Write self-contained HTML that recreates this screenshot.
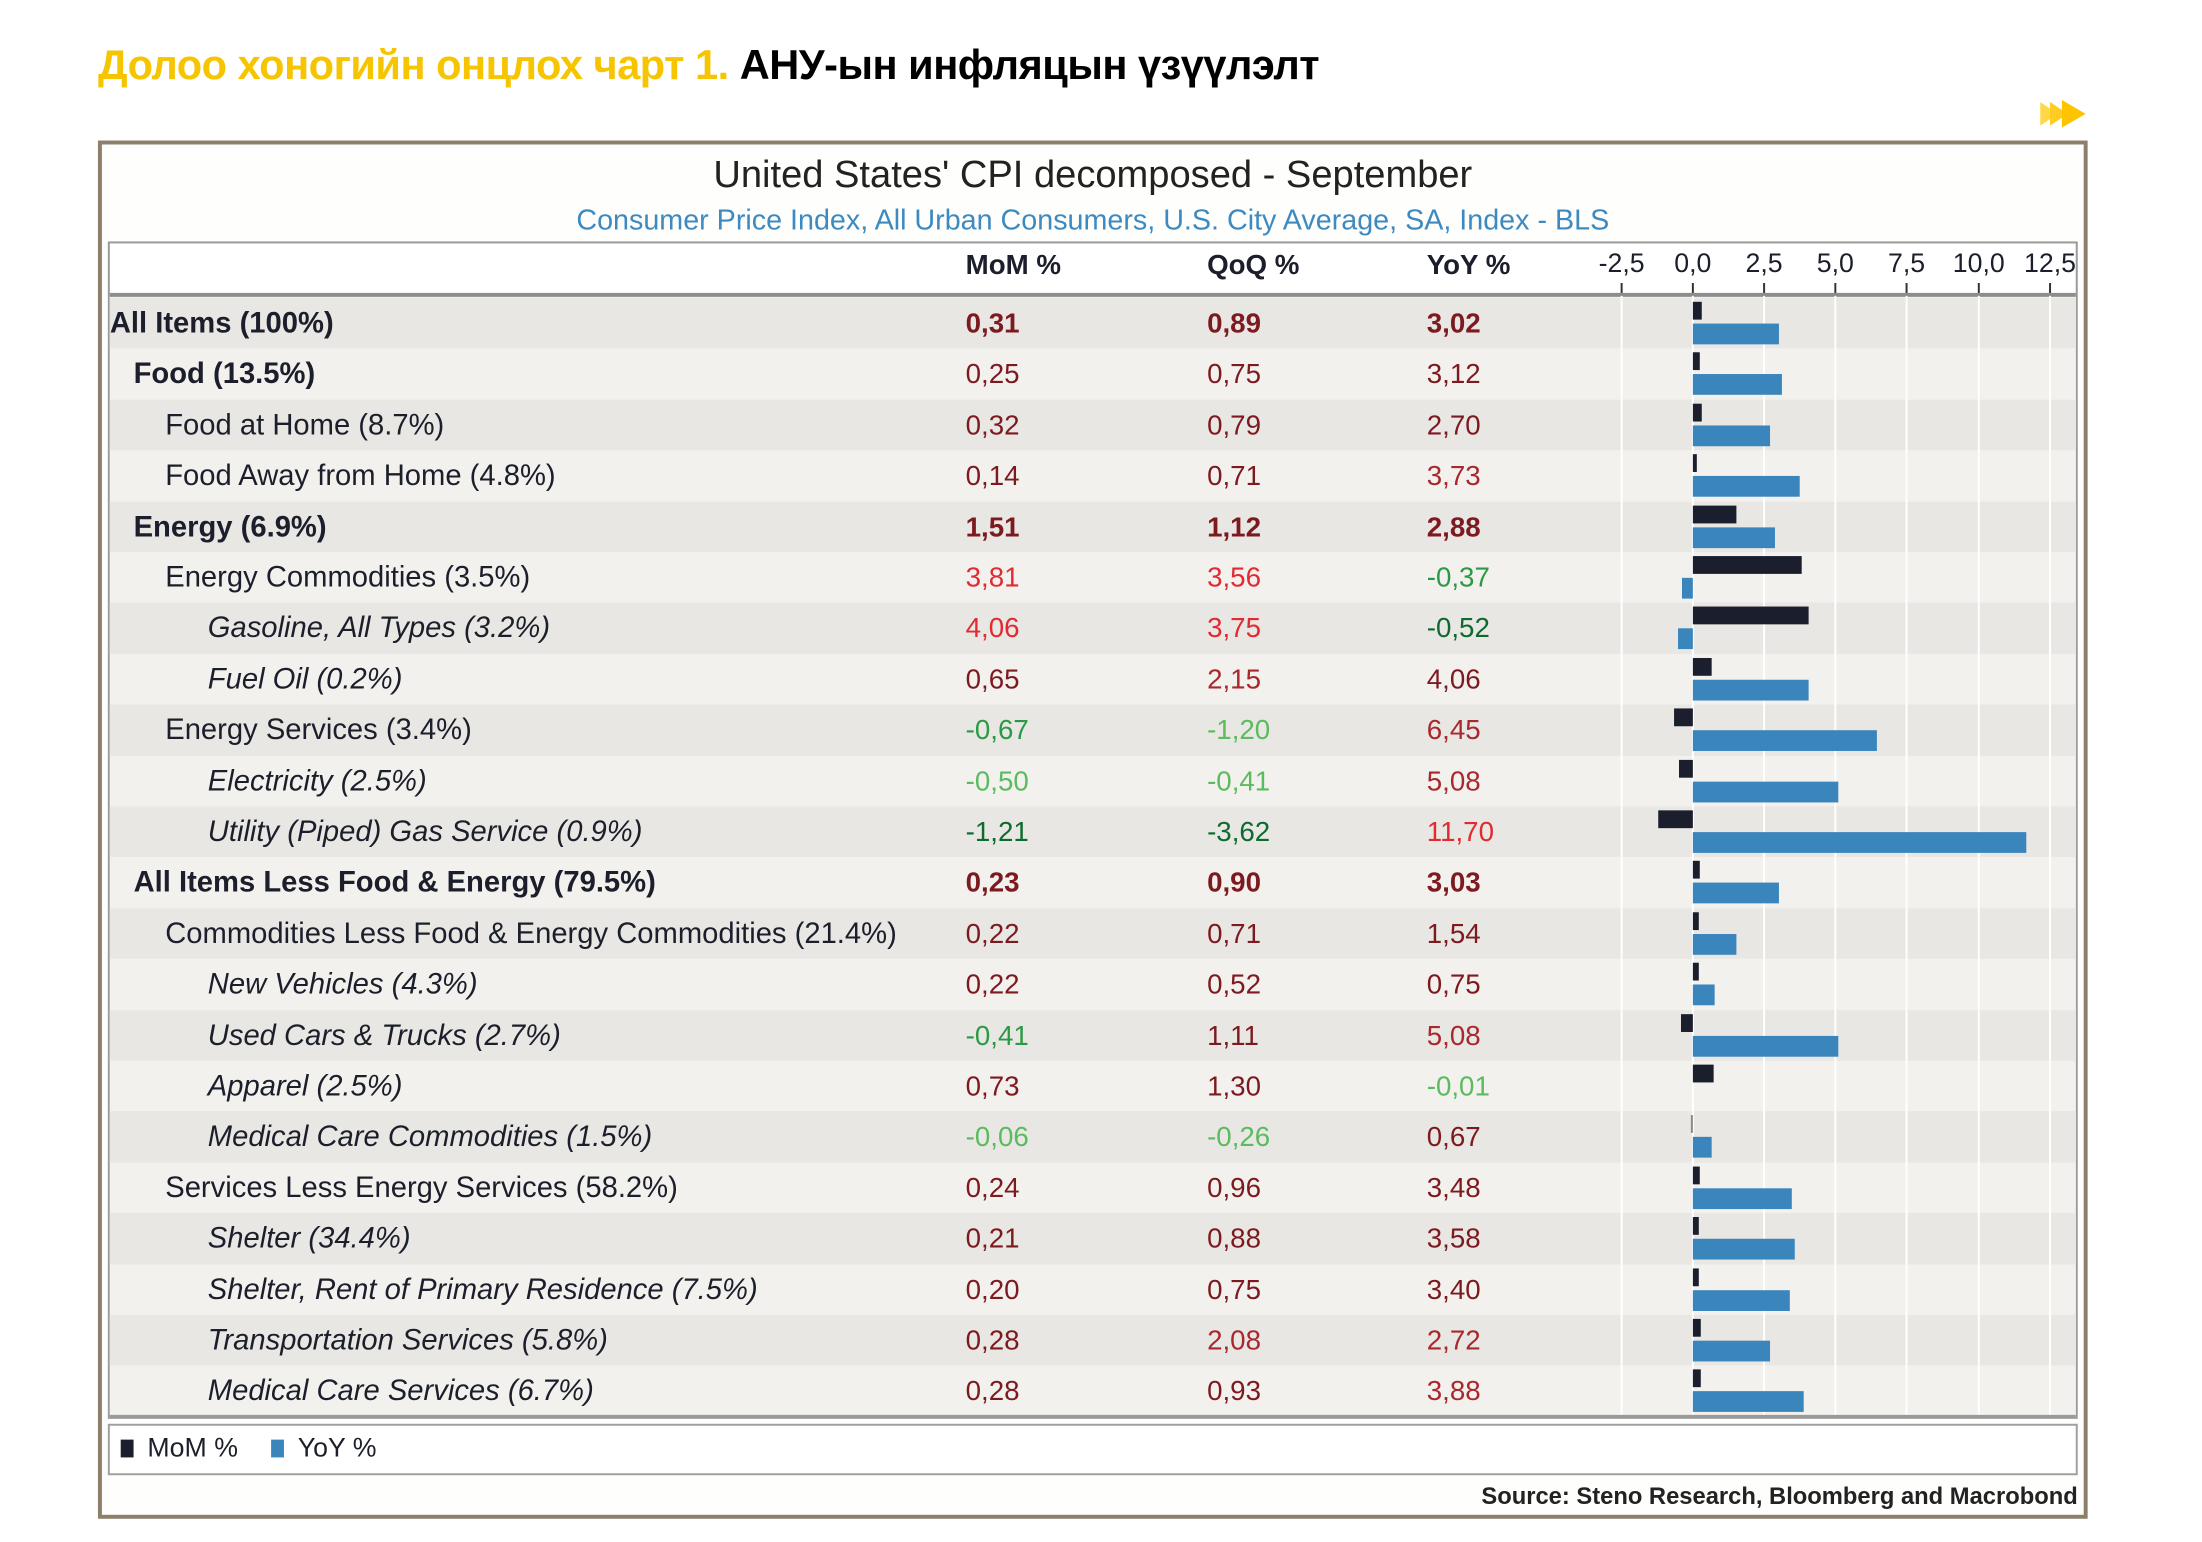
<!DOCTYPE html>
<html><head><meta charset="utf-8"><style>
*{margin:0;padding:0;box-sizing:border-box}
body{width:2202px;height:1538px;background:#fff;position:relative;overflow:hidden;font-family:"Liberation Sans",sans-serif;color:#1c1f2b}
#w{position:absolute;left:0;top:3px;width:2226px;height:1555px;transform:scale(0.9894);transform-origin:0 0}
.a{position:absolute;white-space:nowrap}
.r{position:absolute;left:111px;width:1987px;height:51.4px}
.r .l{position:absolute;top:0;line-height:51.4px;font-size:29.5px}
.r .v{position:absolute;top:0;line-height:51.4px;font-size:28px}
.b .l,.b .v{font-weight:bold}
.i .l{font-style:italic}
.m,.y{position:absolute;height:18px}
.m{top:4px;background:#1b1f2d}
.y{top:26px;height:21px;background:#3b85bd}
.g{position:absolute;top:296px;width:2px;height:1131px;background:#fff}
.dr{color:#7d1a20}.mr{color:#a8282e}.br{color:#e22a30}
.dg{color:#0f6a2f}.mg{color:#2b9a45}.lg{color:#5bbb5e}
.t{position:absolute;top:248px;width:80px;text-align:center;font-size:27px}
.k{position:absolute;top:283px;width:2px;height:11px;background:#333}
</style></head><body><div id="w">
<div class="a" style="left:99px;top:39px;font-size:42px;font-weight:bold;letter-spacing:-0.5px"><span style="color:#f7c400">Долоо хоногийн онцлох чарт 1.</span> <span style="color:#000">АНУ-ын инфляцын үзүүлэлт</span></div>
<svg class="a" style="left:2062px;top:98px" width="50" height="28"><polygon points="0,2 18,14 0,26" fill="#ffd84a"/><polygon points="10,2 28,14 10,26" fill="#ffcc22"/><polygon points="22,0 46,14 22,28" fill="#ffc400"/></svg>
<div class="a" style="left:99px;top:139px;width:2011px;height:1393px;border:4px solid #8c806a;background:#fefefd"></div>
<div class="a" style="left:99px;top:152px;width:2011px;text-align:center;font-size:38.5px;color:#222">United States' CPI decomposed - September</div>
<div class="a" style="left:99px;top:204px;width:2011px;text-align:center;font-size:29px;color:#3d8ac0">Consumer Price Index, All Urban Consumers, U.S. City Average, SA, Index - BLS</div>
<div class="a" style="left:109px;top:241px;width:1991px;height:1190px;border:2px solid #9a9a9a;background:#fff"></div>
<div class="a" style="left:111px;top:296px;width:1987px;height:1133px;background:#f2f1ee"></div>
<div class="a" style="left:976px;top:249px;font-size:28px;font-weight:bold">MoM %</div>
<div class="a" style="left:1220px;top:249px;font-size:28px;font-weight:bold">QoQ %</div>
<div class="a" style="left:1442px;top:249px;font-size:28px;font-weight:bold">YoY %</div>
<div class="t" style="left:1599px">-2,5</div><div class="t" style="left:1671px">0,0</div><div class="t" style="left:1743px">2,5</div><div class="t" style="left:1815px">5,0</div><div class="t" style="left:1887px">7,5</div><div class="t" style="left:1960px">10,0</div><div class="t" style="left:2032px">12,5</div>
<div class="k" style="left:1638px"></div><div class="k" style="left:1710px"></div><div class="k" style="left:1782px"></div><div class="k" style="left:1854px"></div><div class="k" style="left:1926px"></div><div class="k" style="left:1999px"></div><div class="k" style="left:2071px"></div>
<div class="a" style="left:111px;top:293px;width:1987px;height:4px;background:#8d8d8d"></div>

<div class="r" style="top:298px;background:#e8e7e3"></div>
<div class="r" style="top:400.8px;background:#e8e7e3"></div>
<div class="r" style="top:503.6px;background:#e8e7e3"></div>
<div class="r" style="top:606.4px;background:#e8e7e3"></div>
<div class="r" style="top:709.2px;background:#e8e7e3"></div>
<div class="r" style="top:812px;background:#e8e7e3"></div>
<div class="r" style="top:914.8px;background:#e8e7e3"></div>
<div class="r" style="top:1017.6px;background:#e8e7e3"></div>
<div class="r" style="top:1120.4px;background:#e8e7e3"></div>
<div class="r" style="top:1223.2px;background:#e8e7e3"></div>
<div class="r" style="top:1326px;background:#e8e7e3"></div>
<div class="g" style="left:1638px"></div><div class="g" style="left:1710px"></div><div class="g" style="left:1782px"></div><div class="g" style="left:1854px"></div><div class="g" style="left:1926px"></div><div class="g" style="left:1999px"></div><div class="g" style="left:2071px"></div>

<div class="r b" style="top:298px"><span class="l" style="left:0">All Items (100%)</span><span class="v dr" style="left:865px">0,31</span><span class="v dr" style="left:1109px">0,89</span><span class="v dr" style="left:1331px">3,02</span><div class="m" style="left:1600px;width:9px"></div><div class="y" style="left:1600px;width:87px"></div></div>
<div class="r b" style="top:349.4px"><span class="l" style="left:24px">Food (13.5%)</span><span class="v dr" style="left:865px;font-weight:normal">0,25</span><span class="v dr" style="left:1109px;font-weight:normal">0,75</span><span class="v dr" style="left:1331px;font-weight:normal">3,12</span><div class="m" style="left:1600px;width:7px"></div><div class="y" style="left:1600px;width:90px"></div></div>
<div class="r" style="top:400.8px"><span class="l" style="left:56px">Food at Home (8.7%)</span><span class="v dr" style="left:865px">0,32</span><span class="v dr" style="left:1109px">0,79</span><span class="v dr" style="left:1331px">2,70</span><div class="m" style="left:1600px;width:9px"></div><div class="y" style="left:1600px;width:78px"></div></div>
<div class="r" style="top:452.2px"><span class="l" style="left:56px">Food Away from Home (4.8%)</span><span class="v dr" style="left:865px">0,14</span><span class="v dr" style="left:1109px">0,71</span><span class="v mr" style="left:1331px">3,73</span><div class="m" style="left:1600px;width:4px"></div><div class="y" style="left:1600px;width:108px"></div></div>
<div class="r b" style="top:503.6px"><span class="l" style="left:24px">Energy (6.9%)</span><span class="v dr" style="left:865px">1,51</span><span class="v dr" style="left:1109px">1,12</span><span class="v dr" style="left:1331px">2,88</span><div class="m" style="left:1600px;width:44px"></div><div class="y" style="left:1600px;width:83px"></div></div>
<div class="r" style="top:555px"><span class="l" style="left:56px">Energy Commodities (3.5%)</span><span class="v br" style="left:865px">3,81</span><span class="v br" style="left:1109px">3,56</span><span class="v mg" style="left:1331px">-0,37</span><div class="m" style="left:1600px;width:110px"></div><div class="y" style="left:1589px;width:11px"></div></div>
<div class="r i" style="top:606.4px"><span class="l" style="left:99px">Gasoline, All Types (3.2%)</span><span class="v br" style="left:865px">4,06</span><span class="v br" style="left:1109px">3,75</span><span class="v dg" style="left:1331px">-0,52</span><div class="m" style="left:1600px;width:117px"></div><div class="y" style="left:1585px;width:15px"></div></div>
<div class="r i" style="top:657.8px"><span class="l" style="left:99px">Fuel Oil (0.2%)</span><span class="v dr" style="left:865px">0,65</span><span class="v mr" style="left:1109px">2,15</span><span class="v dr" style="left:1331px">4,06</span><div class="m" style="left:1600px;width:19px"></div><div class="y" style="left:1600px;width:117px"></div></div>
<div class="r" style="top:709.2px"><span class="l" style="left:56px">Energy Services (3.4%)</span><span class="v mg" style="left:865px">-0,67</span><span class="v lg" style="left:1109px">-1,20</span><span class="v mr" style="left:1331px">6,45</span><div class="m" style="left:1581px;width:19px"></div><div class="y" style="left:1600px;width:186px"></div></div>
<div class="r i" style="top:760.6px"><span class="l" style="left:99px">Electricity (2.5%)</span><span class="v lg" style="left:865px">-0,50</span><span class="v lg" style="left:1109px">-0,41</span><span class="v mr" style="left:1331px">5,08</span><div class="m" style="left:1586px;width:14px"></div><div class="y" style="left:1600px;width:147px"></div></div>
<div class="r i" style="top:812px"><span class="l" style="left:99px">Utility (Piped) Gas Service (0.9%)</span><span class="v dg" style="left:865px">-1,21</span><span class="v dg" style="left:1109px">-3,62</span><span class="v br" style="left:1331px">11,70</span><div class="m" style="left:1565px;width:35px"></div><div class="y" style="left:1600px;width:337px"></div></div>
<div class="r b" style="top:863.4px"><span class="l" style="left:24px">All Items Less Food &amp; Energy (79.5%)</span><span class="v dr" style="left:865px">0,23</span><span class="v dr" style="left:1109px">0,90</span><span class="v dr" style="left:1331px">3,03</span><div class="m" style="left:1600px;width:7px"></div><div class="y" style="left:1600px;width:87px"></div></div>
<div class="r" style="top:914.8px"><span class="l" style="left:56px">Commodities Less Food &amp; Energy Commodities (21.4%)</span><span class="v dr" style="left:865px">0,22</span><span class="v dr" style="left:1109px">0,71</span><span class="v dr" style="left:1331px">1,54</span><div class="m" style="left:1600px;width:6px"></div><div class="y" style="left:1600px;width:44px"></div></div>
<div class="r i" style="top:966.2px"><span class="l" style="left:99px">New Vehicles (4.3%)</span><span class="v dr" style="left:865px">0,22</span><span class="v dr" style="left:1109px">0,52</span><span class="v dr" style="left:1331px">0,75</span><div class="m" style="left:1600px;width:6px"></div><div class="y" style="left:1600px;width:22px"></div></div>
<div class="r i" style="top:1017.6px"><span class="l" style="left:99px">Used Cars &amp; Trucks (2.7%)</span><span class="v mg" style="left:865px">-0,41</span><span class="v dr" style="left:1109px">1,11</span><span class="v mr" style="left:1331px">5,08</span><div class="m" style="left:1588px;width:12px"></div><div class="y" style="left:1600px;width:147px"></div></div>
<div class="r i" style="top:1069px"><span class="l" style="left:99px">Apparel (2.5%)</span><span class="v dr" style="left:865px">0,73</span><span class="v dr" style="left:1109px">1,30</span><span class="v lg" style="left:1331px">-0,01</span><div class="m" style="left:1600px;width:21px"></div></div>
<div class="r i" style="top:1120.4px"><span class="l" style="left:99px">Medical Care Commodities (1.5%)</span><span class="v lg" style="left:865px">-0,06</span><span class="v lg" style="left:1109px">-0,26</span><span class="v dr" style="left:1331px">0,67</span><div class="m" style="left:1598px;width:2px;background:#888"></div><div class="y" style="left:1600px;width:19px"></div></div>
<div class="r" style="top:1171.8px"><span class="l" style="left:56px">Services Less Energy Services (58.2%)</span><span class="v dr" style="left:865px">0,24</span><span class="v dr" style="left:1109px">0,96</span><span class="v dr" style="left:1331px">3,48</span><div class="m" style="left:1600px;width:7px"></div><div class="y" style="left:1600px;width:100px"></div></div>
<div class="r i" style="top:1223.2px"><span class="l" style="left:99px">Shelter (34.4%)</span><span class="v dr" style="left:865px">0,21</span><span class="v dr" style="left:1109px">0,88</span><span class="v dr" style="left:1331px">3,58</span><div class="m" style="left:1600px;width:6px"></div><div class="y" style="left:1600px;width:103px"></div></div>
<div class="r i" style="top:1274.6px"><span class="l" style="left:99px">Shelter, Rent of Primary Residence (7.5%)</span><span class="v dr" style="left:865px">0,20</span><span class="v dr" style="left:1109px">0,75</span><span class="v dr" style="left:1331px">3,40</span><div class="m" style="left:1600px;width:6px"></div><div class="y" style="left:1600px;width:98px"></div></div>
<div class="r i" style="top:1326px"><span class="l" style="left:99px">Transportation Services (5.8%)</span><span class="v dr" style="left:865px">0,28</span><span class="v mr" style="left:1109px">2,08</span><span class="v mr" style="left:1331px">2,72</span><div class="m" style="left:1600px;width:8px"></div><div class="y" style="left:1600px;width:78px"></div></div>
<div class="r i" style="top:1377.4px"><span class="l" style="left:99px">Medical Care Services (6.7%)</span><span class="v dr" style="left:865px">0,28</span><span class="v dr" style="left:1109px">0,93</span><span class="v mr" style="left:1331px">3,88</span><div class="m" style="left:1600px;width:8px"></div><div class="y" style="left:1600px;width:112px"></div></div>
<div class="a" style="left:111px;top:1427px;width:1987px;height:3px;background:#9a9a9a"></div>

<div class="a" style="left:109px;top:1436px;width:1991px;height:52px;border:2px solid #a0a0a0;background:#fff"></div>
<div class="a" style="left:122px;top:1452px;width:13px;height:18px;background:#1b1f2d"></div>
<div class="a" style="left:149px;top:1445px;font-size:27px">MoM %</div>
<div class="a" style="left:274px;top:1452px;width:13px;height:18px;background:#3b85bd"></div>
<div class="a" style="left:301px;top:1445px;font-size:27px">YoY %</div>
<div class="a" style="left:1300px;top:1496px;width:800px;text-align:right;font-size:24px;font-weight:bold;color:#222">Source: Steno Research, Bloomberg and Macrobond</div>
</div></body></html>
